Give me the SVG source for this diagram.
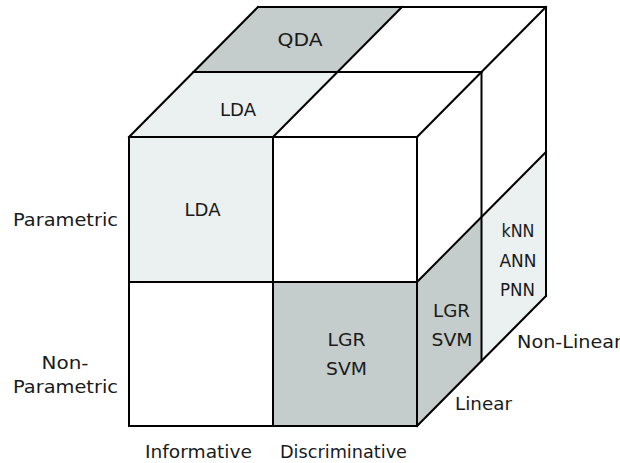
<svg xmlns="http://www.w3.org/2000/svg" width="620" height="463" viewBox="0 0 620 463">
  <style>
    .dark { fill: #c4cdcc; }
    .light { fill: #ebf0f0; }
    .edge { fill: none; stroke: #000; stroke-width: 2; stroke-linejoin: miter; stroke-linecap: square; }
    text { font-family: "DejaVu Sans", "Liberation Sans", sans-serif; font-size: 18px; fill: #1a1a1a; }
    .c { text-anchor: middle; }
  </style>

  <!-- background -->
  <rect width="620" height="463" fill="#fff"/>

  <!-- top face cells -->
  <g id="top-qda">
    <polygon class="dark" points="193.5,72 258,7 402,7 337.5,72"/>
    <text class="c" x="300" y="46" textLength="45" lengthAdjust="spacingAndGlyphs">QDA</text>
  </g>
  <g id="top-lda">
    <polygon class="light" points="129,137 193.5,72 337.5,72 273,137"/>
    <text class="c" x="238" y="116" textLength="36" lengthAdjust="spacingAndGlyphs">LDA</text>
  </g>

  <!-- front face cells -->
  <g id="front-lda">
    <rect class="light" x="129" y="137" width="144" height="145"/>
    <text class="c" x="202.5" y="216" textLength="36" lengthAdjust="spacingAndGlyphs">LDA</text>
  </g>
  <g id="front-lgr-svm">
    <rect class="dark" x="273" y="282" width="144" height="144"/>
    <text class="c" x="346.5" y="346" textLength="38" lengthAdjust="spacingAndGlyphs">LGR</text>
    <text class="c" x="346.5" y="375" textLength="41" lengthAdjust="spacingAndGlyphs">SVM</text>
  </g>

  <!-- side face cells -->
  <g id="side-linear">
    <polygon class="dark" points="417,282 481.5,217 481.5,361 417,426"/>
    <text class="c" x="451.5" y="317" textLength="37" lengthAdjust="spacingAndGlyphs">LGR</text>
    <text class="c" x="452" y="346" textLength="41" lengthAdjust="spacingAndGlyphs">SVM</text>
  </g>
  <g id="side-nonlinear">
    <polygon class="light" points="481.5,217 546,152 546,296 481.5,361"/>
    <text class="c" x="518" y="237" textLength="33" lengthAdjust="spacingAndGlyphs">kNN</text>
    <text class="c" x="518" y="266.5" textLength="37" lengthAdjust="spacingAndGlyphs">ANN</text>
    <text class="c" x="517.5" y="296" textLength="35" lengthAdjust="spacingAndGlyphs">PNN</text>
  </g>

  <!-- cube edges -->
  <g id="edges" class="edge">
    <rect x="129" y="137" width="288" height="289"/>
    <line x1="273" y1="137" x2="273" y2="426"/>
    <line x1="129" y1="282" x2="417" y2="282"/>
    <line x1="258" y1="7" x2="546" y2="7"/>
    <line x1="129" y1="137" x2="258" y2="7"/>
    <line x1="273" y1="137" x2="402" y2="7"/>
    <line x1="417" y1="137" x2="546" y2="7"/>
    <line x1="193.5" y1="72" x2="481.5" y2="72"/>
    <line x1="546" y1="7" x2="546" y2="296"/>
    <line x1="417" y1="426" x2="546" y2="296"/>
    <line x1="417" y1="282" x2="546" y2="152"/>
    <line x1="481.5" y1="72" x2="481.5" y2="361"/>
  </g>

  <!-- axis labels -->
  <g id="axis-labels">
    <text class="c" x="65.5" y="226" textLength="105" lengthAdjust="spacingAndGlyphs">Parametric</text>
    <text class="c" x="65" y="369" textLength="47" lengthAdjust="spacingAndGlyphs">Non-</text>
    <text class="c" x="65.5" y="393" textLength="105" lengthAdjust="spacingAndGlyphs">Parametric</text>
    <text class="c" x="198.5" y="458" textLength="107" lengthAdjust="spacingAndGlyphs">Informative</text>
    <text class="c" x="343.5" y="458" textLength="127" lengthAdjust="spacingAndGlyphs">Discriminative</text>
    <text x="455" y="410" textLength="57" lengthAdjust="spacingAndGlyphs">Linear</text>
    <text x="517" y="348" textLength="105" lengthAdjust="spacingAndGlyphs">Non-Linear</text>
  </g>
</svg>
